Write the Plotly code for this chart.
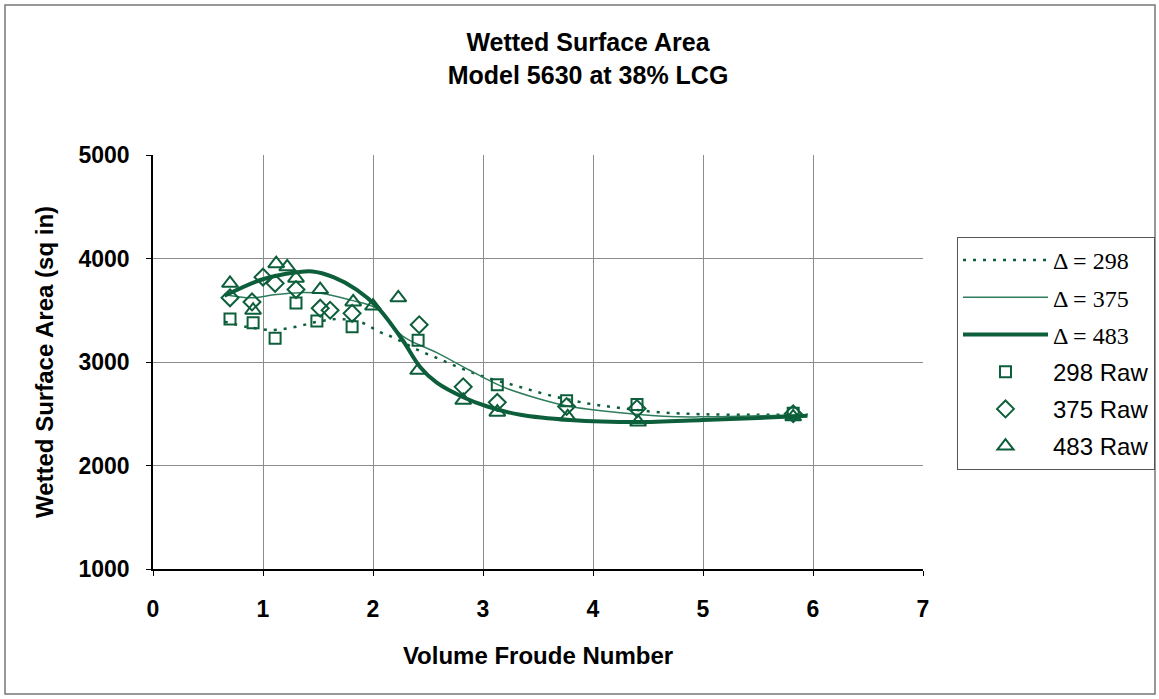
import plotly.graph_objects as go

# Raw data
x298 = [0.70, 0.91, 1.11, 1.30, 1.49, 1.81, 2.41, 3.13, 3.76, 4.40, 5.82]
y298 = [3415, 3380, 3230, 3570, 3395, 3340, 3210, 2780, 2625, 2590, 2505]

x375 = [0.70, 0.90, 1.00, 1.11, 1.30, 1.52, 1.61, 1.81, 2.42, 2.82, 3.13, 3.76, 4.40, 5.82]
y375 = [3620, 3580, 3820, 3760, 3700, 3520, 3500, 3470, 3360, 2760, 2610, 2570, 2550, 2500]

x483 = [0.70, 0.91, 1.12, 1.22, 1.30, 1.52, 1.82, 2.00, 2.23, 2.41, 2.82, 3.13, 3.77, 4.41, 5.82]
y483 = [3760, 3500, 3950, 3920, 3810, 3700, 3580, 3540, 3620, 2920, 2630, 2515, 2470, 2420, 2470]

# Fitted curves
cx298 = [0.65, 0.85, 1.10, 1.30, 1.50, 1.70, 1.90, 2.06, 2.20, 2.40, 2.60, 2.80, 3.00, 3.30, 3.60, 3.95, 4.25, 4.60, 5.00, 5.50, 5.95]
cy298 = [3390, 3340, 3310, 3340, 3390, 3415, 3380, 3290, 3230, 3120, 3030, 2940, 2860, 2770, 2680, 2600, 2555, 2515, 2495, 2490, 2495]

cx375 = [0.65, 0.90, 1.10, 1.34, 1.55, 1.79, 2.03, 2.27, 2.58, 2.88, 3.18, 3.49, 3.79, 4.25, 4.64, 5.00, 5.50, 5.95]
cy375 = [3650, 3620, 3650, 3670, 3660, 3600, 3520, 3250, 3090, 2920, 2760, 2650, 2570, 2510, 2475, 2470, 2480, 2490]

cx483 = [0.65, 0.97, 1.20, 1.45, 1.64, 1.85, 2.04, 2.27, 2.43, 2.58, 2.82, 3.04, 3.34, 3.79, 4.40, 5.00, 5.50, 5.95]
cy483 = [3640, 3790, 3850, 3875, 3820, 3700, 3530, 3210, 2950, 2800, 2660, 2570, 2490, 2440, 2420, 2440, 2460, 2480]

x_ticks = [0, 1, 2, 3, 4, 5, 6, 7]
y_ticks = [1000, 2000, 3000, 4000, 5000]

GREEN = "#0d5e3a"
GREEN_THIN = "#2f7d5c"
SANS = "Liberation Sans, Arial, sans-serif"
SERIF = "<span style='font-family:\"Liberation Serif\", \"Times New Roman\", serif'>"

fig = go.Figure()
fig.add_trace(go.Scatter(x=cx298, y=cy298, mode="lines", legendgroup="a",
                         line=dict(color=GREEN, width=2.5, dash="3px,7px", shape="spline"),
                         name=SERIF + "Δ = 298</span>"))
fig.add_trace(go.Scatter(x=cx375, y=cy375, mode="lines", legendgroup="b",
                         line=dict(color=GREEN_THIN, width=1.5, shape="spline"),
                         name=SERIF + "Δ = 375</span>"))
fig.add_trace(go.Scatter(x=cx483, y=cy483, mode="lines", legendgroup="c",
                         line=dict(color=GREEN, width=4, shape="spline"),
                         name=SERIF + "Δ = 483</span>"))
fig.add_trace(go.Scatter(x=x298, y=y298, mode="markers", name="298 Raw", legendgroup="d",
                         marker=dict(symbol="square-open", size=11, color=GREEN, line=dict(width=2, color=GREEN))))
fig.add_trace(go.Scatter(x=x375, y=y375, mode="markers", name="375 Raw", legendgroup="e",
                         marker=dict(symbol="diamond-open", size=13, color=GREEN, line=dict(width=2, color=GREEN))))
fig.add_trace(go.Scatter(x=x483, y=y483, mode="markers", name="483 Raw", legendgroup="f",
                         marker=dict(symbol="triangle-up-open", size=14, color=GREEN, line=dict(width=2, color=GREEN))))

W, H = 1159, 699
L, R, T, B = 153, 923, 155, 569
pw, ph = R - L, B - T

def px(xp):
    return (xp - L) / pw

def py(yp):
    return (B - yp) / ph

fig.update_layout(
    width=W, height=H,
    margin=dict(l=L, r=W - R, t=T, b=H - B, autoexpand=False),
    paper_bgcolor="white", plot_bgcolor="white",
    font=dict(family=SANS, color="black"),
    title=dict(text="<b>Wetted Surface Area<br>Model 5630 at 38% LCG</b>",
               x=px(588), xref="paper", xanchor="center", y=1 - 51 / H, yanchor="top",
               font=dict(size=25)),
    showlegend=True,
    legend=dict(x=px(957), y=py(237), xanchor="left", yanchor="top",
                bordercolor="#555", borderwidth=1, bgcolor="white",
                font=dict(size=24, family=SANS),
                traceorder="grouped", tracegroupgap=3, itemwidth=85),
    xaxis=dict(range=[0, 7], tickvals=x_ticks, ticktext=["<b>%d</b>" % v for v in x_ticks],
               showgrid=True, gridcolor="#8c8c8c", gridwidth=1,
               showline=True, linecolor="black", linewidth=1.5,
               ticks="outside", ticklen=5, tickcolor="black", ticklabelstandoff=14,
               tickfont=dict(size=23, family=SANS), automargin=False,
               title=dict(text="<b>Volume Froude Number</b>", font=dict(size=24), standoff=26),
               zeroline=False),
    yaxis=dict(range=[1000, 5000], tickvals=y_ticks, ticktext=["<b>%d</b>" % v for v in y_ticks],
               showgrid=True, gridcolor="#8c8c8c", gridwidth=1,
               showline=True, linecolor="black", linewidth=1.5,
               ticks="outside", ticklen=5, tickcolor="black", ticklabelstandoff=12,
               tickfont=dict(size=23, family=SANS), automargin=False,
               title=dict(text="<b>Wetted Surface Area (sq in)</b>", font=dict(size=24), standoff=18),
               zeroline=False),
)

# outer chart frame
fig.add_shape(type="rect", xref="paper", yref="paper",
              x0=px(5), x1=px(1155), y0=py(694), y1=py(5),
              line=dict(color="#777", width=1.5), fillcolor="rgba(0,0,0,0)", layer="below")

fig.write_html("out.html", config={"displayModeBar": False},
               post_script="document.body.style.margin='0';")
